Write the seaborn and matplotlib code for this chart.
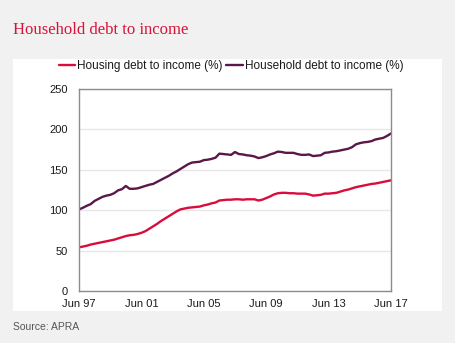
import numpy as np
import pandas as pd
import matplotlib
matplotlib.use("Agg")
import matplotlib.pyplot as plt
from matplotlib.lines import Line2D
import seaborn as sns

# ---- data (quarterly, Jun 97 .. Jun 17) ----
housing = [54, 55, 56, 57.5, 58.5, 59.5, 60.5, 61.5, 62.5, 63.5,
           65, 66.5, 68, 69, 69.5, 70.5, 72, 74, 77, 80,
           83, 86.5, 89.5, 92.5, 95.5, 98.5, 101, 102, 103, 103.5,
           104, 104.5, 106, 107, 108.5, 109.5, 112, 112.5, 113, 113,
           113.5, 113.5, 113, 113.5, 113.5, 113.5, 112, 113, 115, 117,
           119.5, 121, 121.5, 121.5, 121, 121, 120.5, 120.5, 120.5, 119.5,
           118, 118.5, 119, 120.5, 120.5, 121, 121.5, 123, 124.5, 125.5,
           127, 128.5, 129.5, 130.5, 131.5, 132.5, 133, 134, 135, 136,
           137]
household = [101, 103, 105.5, 107.5, 111.5, 114, 116.5, 118, 119, 121,
             124.5, 126, 130, 126.5, 126.5, 127, 128.5, 130, 131.5, 132.5,
             135, 137.5, 140, 142.5, 145.5, 148, 151, 154, 157, 159,
             159.5, 160, 162, 162.5, 163.5, 165, 170, 169.5, 169, 168.5,
             172, 169.5, 169, 168, 167.5, 166.5, 164.5, 165.5, 167, 169,
             170.5, 172.5, 172, 171, 171, 171, 169.5, 168.5, 168.5, 169,
             167, 167.5, 168, 171, 171.5, 172.5, 173, 174, 175, 176,
             178, 181.5, 183, 184, 184.5, 185.5, 187.5, 188.5, 189.5, 192,
             195]
series_names = ["Housing debt to income (%)", "Household debt to income (%)"]
tick_labels = ["Jun 97", "Jun 01", "Jun 05", "Jun 09", "Jun 13", "Jun 17"]
y_ticks = [0, 50, 100, 150, 200, 250]

colors = ["#d90d3c", "#5b1748"]
title = "Household debt to income"
source = "Source: APRA"

q = np.arange(len(housing))
df = pd.DataFrame({
    "q": np.concatenate([q, q]),
    "value": housing + household,
    "series": [series_names[0]] * len(housing) + [series_names[1]] * len(household),
})

sns.set_style("white")
plt.rcParams["font.family"] = ["Liberation Sans", "DejaVu Sans"]

fig = plt.figure(figsize=(4.56, 3.43), dpi=100)
fig.patch.set_facecolor("#f1f1f1")

# white panel behind the chart
bg = fig.add_axes([13 / 456, 1 - 311 / 343, (442 - 13) / 456, (311 - 59) / 343], zorder=-5)
bg.set_facecolor("white")
bg.set_xticks([])
bg.set_yticks([])
for s in bg.spines.values():
    s.set_visible(False)

ax = fig.add_axes([79 / 456, 1 - 291 / 343, (391 - 79) / 456, (291 - 89) / 343], zorder=1)
sns.lineplot(data=df, x="q", y="value", hue="series", palette=colors,
             linewidth=1.7, ax=ax, legend=False)

ax.set_xlim(0, 80)
ax.set_ylim(0, 250)
ax.set_xticks(np.arange(0, 81, 16))
ax.set_xticklabels(tick_labels)
ax.set_yticks(y_ticks)
ax.set_xlabel("")
ax.set_ylabel("")
ax.grid(axis="y", color="#e8e8e8", linewidth=1)
ax.set_axisbelow(True)
for s in ax.spines.values():
    s.set_color("#8c8c8c")
    s.set_linewidth(1)
ax.tick_params(axis="both", length=0, labelsize=8, colors="#1a1a1a")
ax.tick_params(axis="x", pad=6)
ax.tick_params(axis="y", pad=8)

# legend
handles = [Line2D([], [], color=c, linewidth=1.7) for c in colors]
fig.legend(handles, series_names, loc="center", bbox_to_anchor=(231 / 456, 1 - 66 / 343),
           ncol=2, frameon=False, fontsize=8.5, handlelength=1.4, handletextpad=0.15,
           columnspacing=0.3, labelcolor="#1a1a1a")

fig.text(13 / 456, 1 - 30 / 343, title, fontsize=12, color="#d6133a",
         family=["Liberation Serif", "DejaVu Serif"], va="center", ha="left")
fig.text(13 / 456, 1 - 327 / 343, source, fontsize=7.5, color="#555555",
         va="center", ha="left")

fig.savefig("out.png", dpi=100, facecolor=fig.get_facecolor())
